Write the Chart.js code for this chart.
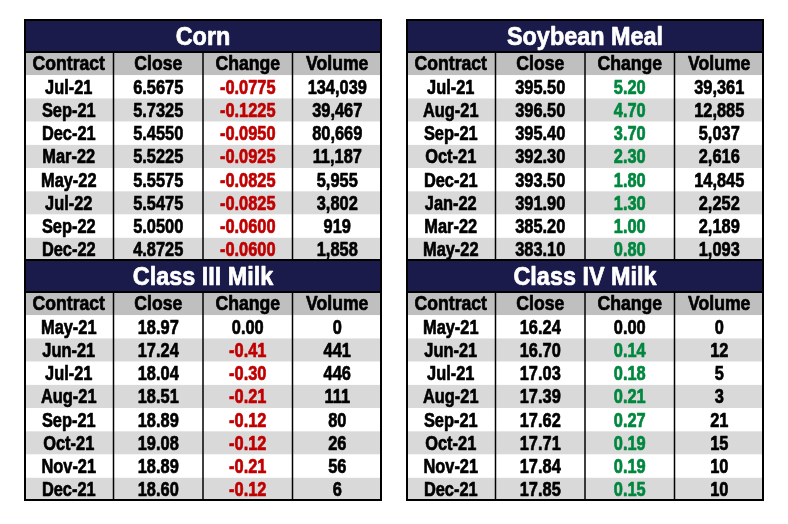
<!DOCTYPE html>
<html>
<head>
<meta charset="utf-8">
<script src="https://cdn.jsdelivr.net/npm/chart.js@4.4.1/dist/chart.umd.min.js"></script>
<style>
body { margin: 0; background: #fff; }
.box { position: absolute; }
canvas { display: block; }
</style>
</head>
<body>
<div class="box" style="left:24px;top:19px"><canvas id="corn" width="358" height="242"></canvas></div>
<div class="box" style="left:406px;top:19px"><canvas id="soy" width="358" height="242"></canvas></div>
<div class="box" style="left:24px;top:259px"><canvas id="milk3" width="358" height="242"></canvas></div>
<div class="box" style="left:406px;top:259px"><canvas id="milk4" width="358" height="242"></canvas></div>
<script>
const columns = ["Contract", "Close", "Change", "Volume"];

const cornContracts = ["Jul-21", "Sep-21", "Dec-21", "Mar-22", "May-22", "Jul-22", "Sep-22", "Dec-22"];
const cornClose = [6.5675, 5.7325, 5.4550, 5.5225, 5.5575, 5.5475, 5.0500, 4.8725];
const cornChange = [-0.0775, -0.1225, -0.0950, -0.0925, -0.0825, -0.0825, -0.0600, -0.0600];
const cornVolume = [134039, 39467, 80669, 11187, 5955, 3802, 919, 1858];

const soyContracts = ["Jul-21", "Aug-21", "Sep-21", "Oct-21", "Dec-21", "Jan-22", "Mar-22", "May-22"];
const soyClose = [395.50, 396.50, 395.40, 392.30, 393.50, 391.90, 385.20, 383.10];
const soyChange = [5.20, 4.70, 3.70, 2.30, 1.80, 1.30, 1.00, 0.80];
const soyVolume = [39361, 12885, 5037, 2616, 14845, 2252, 2189, 1093];

const milk3Contracts = ["May-21", "Jun-21", "Jul-21", "Aug-21", "Sep-21", "Oct-21", "Nov-21", "Dec-21"];
const milk3Close = [18.97, 17.24, 18.04, 18.51, 18.89, 19.08, 18.89, 18.60];
const milk3Change = [0.00, -0.41, -0.30, -0.21, -0.12, -0.12, -0.21, -0.12];
const milk3Volume = [0, 441, 446, 111, 80, 26, 56, 6];

const milk4Contracts = ["May-21", "Jun-21", "Jul-21", "Aug-21", "Sep-21", "Oct-21", "Nov-21", "Dec-21"];
const milk4Close = [16.24, 16.70, 17.03, 17.39, 17.62, 17.71, 17.84, 17.85];
const milk4Change = [0.00, 0.14, 0.18, 0.21, 0.27, 0.19, 0.19, 0.15];
const milk4Volume = [0, 12, 5, 3, 21, 15, 10, 10];

const FONT = "'Liberation Sans', Arial, sans-serif";
const NAVY = "#1a1a4b";
const TITLE_H = 33;

// text squeezed sideways (no condensed face installed), with a thin stroke for weight
function narrowText(ctx, txt, x, y, sx, color) {
  ctx.save();
  ctx.translate(x, y);
  ctx.scale(sx, 1);
  ctx.fillStyle = color;
  ctx.strokeStyle = color;
  ctx.lineWidth = 0.7;
  ctx.lineJoin = "round";
  ctx.fillText(txt, 0, 0);
  ctx.strokeText(txt, 0, 0);
  ctx.restore();
}

// draws the grid of cells on the chart's category scales
const tableCells = {
  id: "tableCells",
  beforeDraw(chart, args, opts) {
    const ctx = chart.ctx, x = chart.scales.x, y = chart.scales.y;
    const rowH = Math.abs(y.getPixelForValue(1) - y.getPixelForValue(0));
    ctx.save();
    ctx.fillStyle = NAVY;
    ctx.fillRect(0, 0, chart.width, chart.chartArea.top);
    y.getLabels().forEach((lab, i) => {
      const cy = y.getPixelForValue(i);
      ctx.fillStyle = i === 0 ? "#bfbfbf" : (i % 2 === 0 ? "#d9d9d9" : "#ffffff");
      ctx.fillRect(x.left, cy - rowH / 2, x.width, rowH);
    });
    ctx.restore();
  },
  afterDraw(chart, args, opts) {
    const ctx = chart.ctx, x = chart.scales.x, y = chart.scales.y;
    const area = chart.chartArea;
    ctx.save();
    ctx.textAlign = "center";
    ctx.textBaseline = "middle";

    ctx.font = "bold 26px " + FONT;
    narrowText(ctx, opts.title, chart.width / 2, area.top / 2 + 2, 0.9, "#ffffff");

    opts.cells.forEach((row, i) => {
      const cy = y.getPixelForValue(i) + 1;
      ctx.font = "bold " + (i === 0 ? 20 : 21) + "px " + FONT;
      row.forEach((txt, j) => {
        narrowText(ctx, txt, x.getPixelForValue(j), cy, i === 0 ? 0.88 : 0.78, opts.colors[i][j]);
      });
    });
    // column separators
    ctx.strokeStyle = "#000";
    ctx.lineWidth = 1.5;
    for (let j = 0; j < columns.length - 1; j++) {
      const px = (x.getPixelForValue(j) + x.getPixelForValue(j + 1)) / 2;
      ctx.beginPath();
      ctx.moveTo(px, area.top);
      ctx.lineTo(px, area.bottom);
      ctx.stroke();
    }
    // line under title and outer frame
    ctx.lineWidth = 2;
    ctx.beginPath();
    ctx.moveTo(0, area.top);
    ctx.lineTo(chart.width, area.top);
    ctx.stroke();
    ctx.strokeRect(1, 1, chart.width - 2, chart.height - 2);
    ctx.restore();
  }
};

function fmtVol(v) {
  return v.toLocaleString("en-US");
}

function makeTable(id, title, contracts, close, change, volume, dec) {
  const rows = ["Contract"].concat(contracts);
  const cells = [columns.slice()];
  const colors = [columns.map(() => "#000")];
  contracts.forEach((c, i) => {
    cells.push([c, close[i].toFixed(dec), change[i].toFixed(dec), fmtVol(volume[i])]);
    const chg = change[i] < 0 ? "#c00000" : (change[i] > 0 ? "#00873e" : "#000");
    colors.push(["#000", "#000", chg, "#000"]);
  });

  new Chart(document.getElementById(id), {
    type: "bar",
    data: { labels: columns, datasets: [] },
    options: {
      responsive: false,
      animation: false,
      layout: { padding: { top: TITLE_H } },
      scales: {
        x: { type: "category", offset: true, display: false },
        y: { type: "category", labels: rows, offset: true, display: false }
      },
      plugins: {
        legend: { display: false },
        tooltip: { enabled: false },
        title: { display: false },
        tableCells: { title: title, cells: cells, colors: colors }
      }
    },
    plugins: [tableCells]
  });
}

makeTable("corn", "Corn", cornContracts, cornClose, cornChange, cornVolume, 4);
makeTable("soy", "Soybean Meal", soyContracts, soyClose, soyChange, soyVolume, 2);
makeTable("milk3", "Class III Milk", milk3Contracts, milk3Close, milk3Change, milk3Volume, 2);
makeTable("milk4", "Class IV Milk", milk4Contracts, milk4Close, milk4Change, milk4Volume, 2);
</script>
</body>
</html>
